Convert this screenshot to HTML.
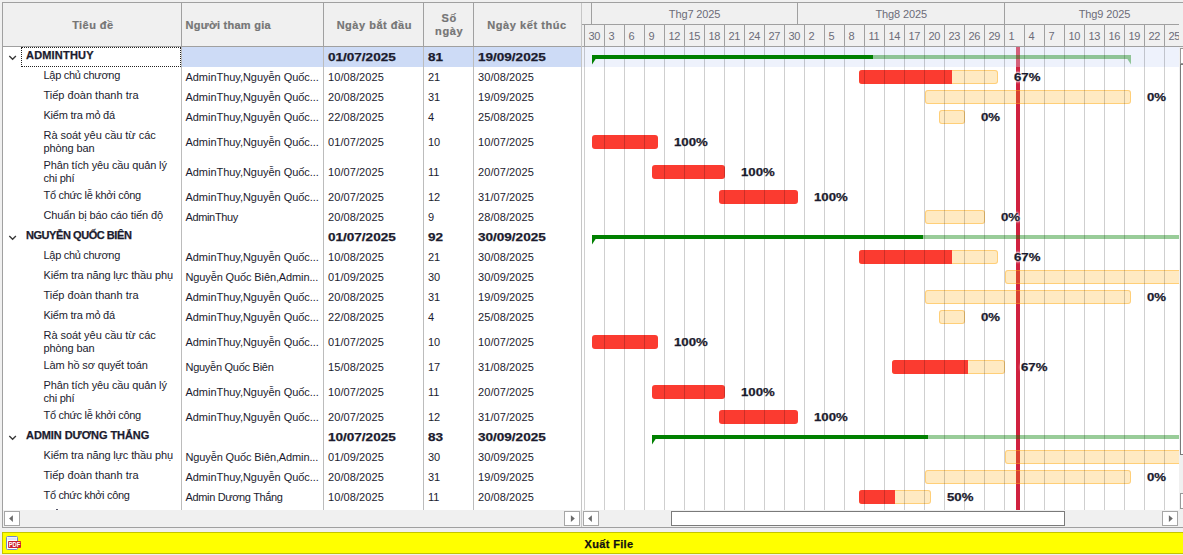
<!DOCTYPE html>
<html><head><meta charset="utf-8"><title>Gantt</title>
<style>

html,body{margin:0;padding:0;}
body{width:1183px;height:555px;overflow:hidden;position:relative;background:#f0f0f0;font-family:"Liberation Sans", sans-serif;font-size:11px;color:#1b1b2e;}
div,span,svg{position:absolute;white-space:nowrap;box-sizing:border-box;}
span span{position:static;}
.t{line-height:20px;height:20px;}
.b{font-weight:bold;-webkit-text-stroke:0.25px currentColor;}
.sx{display:inline-block;transform-origin:0 50%;transform:scaleX(1.23);position:static;}
.hl{background:#a0a0a0;}
.vl{background:#c3c3c3;width:1px;}
.hd{color:#757575;font-weight:bold;-webkit-text-stroke:0.2px currentColor;line-height:13px;text-align:center;}
.bar{height:14px;border-radius:3px;background:rgba(255,168,0,0.24);box-shadow:inset 0 0 0 1px rgba(255,170,20,0.42);overflow:hidden;}
.bar i{position:absolute;left:0;top:0;height:14px;background:#fb3b30;display:block;}
.full{background:#fb3b30;box-shadow:none;}
.lbl{font-weight:bold;-webkit-text-stroke:0.25px currentColor;line-height:20px;height:20px;text-shadow:0 0 2px #fff,0 0 2px #fff,0 0 3px #fff,0 0 3px #fff;}
.sbtn{width:16px;height:15px;background:#fff;border:1px solid #a6a6a6;}

</style></head><body>
<div style="left:2px;top:2px;width:1200px;height:526px;border:1px solid #a0a0a0;"></div>
<div style="left:3px;top:47px;width:578px;height:463px;background:#fff;"></div>
<div style="left:582px;top:47px;width:597px;height:463px;background:#fff;"></div>
<div style="left:182px;top:47px;width:399px;height:20px;background:#cddbf6;"></div>
<div class="hl" style="left:3px;top:46px;width:1180px;height:1px;"></div>
<div class="hl" style="left:181px;top:3px;width:1px;height:43px;"></div>
<div class="vl" style="left:181px;top:47px;height:463px;background:#bcbcbc;"></div>
<div class="hl" style="left:323px;top:3px;width:1px;height:43px;"></div>
<div class="vl" style="left:323px;top:47px;height:463px;background:#bcbcbc;"></div>
<div class="hl" style="left:423px;top:3px;width:1px;height:43px;"></div>
<div class="vl" style="left:423px;top:47px;height:463px;background:#bcbcbc;"></div>
<div class="hl" style="left:473px;top:3px;width:1px;height:43px;"></div>
<div class="vl" style="left:473px;top:47px;height:463px;background:#bcbcbc;"></div>
<div style="left:581px;top:3px;width:1px;height:524px;background:#c6c6c6;"></div>
<span class="hd" style="left:-7.200000000000003px;width:200px;top:18.5px;"><span style="letter-spacing:0.427px;">Tiêu đề</span></span>
<span class="hd" style="left:185.5px;top:18.5px;text-align:left;"><span style="letter-spacing:0.257px;">Người tham gia</span></span>
<span class="hd" style="left:274.3px;width:200px;top:18.5px;"><span style="letter-spacing:0.518px;">Ngày bắt đầu</span></span>
<span class="hd" style="left:349.2px;width:200px;top:12.0px;"><span style="letter-spacing:0.619px;">Số</span></span>
<span class="hd" style="left:349.2px;width:200px;top:25.0px;"><span style="letter-spacing:0.653px;">ngày</span></span>
<span class="hd" style="left:427px;width:200px;top:18.5px;"><span style="letter-spacing:0.566px;">Ngày kết thúc</span></span>
<svg style="left:8px;top:54px;" width="10" height="8" viewBox="0 0 10 8"><path d="M1.3 2.0 L4.6 5.3 L7.9 2.0" fill="none" stroke="#383838" stroke-width="1.35"/></svg>
<span class="t b" style="left:26px;top:45px;"><span style="letter-spacing:0.189px;">ADMINTHUY</span></span>
<span class="t b" style="left:328px;top:47.0px;"><span class="sx">01/07/2025</span></span>
<span class="t b" style="left:428px;top:47.0px;"><span class="sx">81</span></span>
<span class="t b" style="left:478px;top:47.0px;"><span class="sx">19/09/2025</span></span>
<span class="t" style="left:43.5px;top:65px;"><span style="letter-spacing:-0.296px;">Lập chủ chương</span></span>
<span class="t" style="left:185.5px;top:67.0px;"><span style="letter-spacing:-0.042px;">AdminThuy,Nguyễn Quốc...</span></span>
<span class="t" style="left:328px;top:67.0px;letter-spacing:0.08px;">10/08/2025</span>
<span class="t" style="left:428px;top:67.0px;">21</span>
<span class="t" style="left:478px;top:67.0px;letter-spacing:0.08px;">30/08/2025</span>
<span class="t" style="left:43.5px;top:85px;"><span style="">Tiếp đoàn thanh tra</span></span>
<span class="t" style="left:185.5px;top:87.0px;"><span style="letter-spacing:-0.042px;">AdminThuy,Nguyễn Quốc...</span></span>
<span class="t" style="left:328px;top:87.0px;letter-spacing:0.08px;">20/08/2025</span>
<span class="t" style="left:428px;top:87.0px;">31</span>
<span class="t" style="left:478px;top:87.0px;letter-spacing:0.08px;">19/09/2025</span>
<span class="t" style="left:43.5px;top:105px;"><span style="letter-spacing:-0.228px;">Kiểm tra mỏ đá</span></span>
<span class="t" style="left:185.5px;top:107.0px;"><span style="letter-spacing:-0.042px;">AdminThuy,Nguyễn Quốc...</span></span>
<span class="t" style="left:328px;top:107.0px;letter-spacing:0.08px;">22/08/2025</span>
<span class="t" style="left:428px;top:107.0px;">4</span>
<span class="t" style="left:478px;top:107.0px;letter-spacing:0.08px;">25/08/2025</span>
<span class="t" style="left:43.5px;top:125px;"><span style="letter-spacing:-0.043px;">Rà soát yêu cầu từ các</span></span>
<span class="t" style="left:43.5px;top:138px;"><span style="letter-spacing:-0.111px;">phòng ban</span></span>
<span class="t" style="left:185.5px;top:132.0px;"><span style="letter-spacing:-0.042px;">AdminThuy,Nguyễn Quốc...</span></span>
<span class="t" style="left:328px;top:132.0px;letter-spacing:0.08px;">01/07/2025</span>
<span class="t" style="left:428px;top:132.0px;">10</span>
<span class="t" style="left:478px;top:132.0px;letter-spacing:0.08px;">10/07/2025</span>
<span class="t" style="left:43.5px;top:155px;"><span style="letter-spacing:-0.132px;">Phân tích yêu cầu quản lý</span></span>
<span class="t" style="left:43.5px;top:168px;"><span style="letter-spacing:-0.246px;">chi phí</span></span>
<span class="t" style="left:185.5px;top:162.0px;"><span style="letter-spacing:-0.042px;">AdminThuy,Nguyễn Quốc...</span></span>
<span class="t" style="left:328px;top:162.0px;letter-spacing:0.08px;">10/07/2025</span>
<span class="t" style="left:428px;top:162.0px;">11</span>
<span class="t" style="left:478px;top:162.0px;letter-spacing:0.08px;">20/07/2025</span>
<span class="t" style="left:43.5px;top:185px;"><span style="letter-spacing:-0.292px;">Tổ chức lễ khởi công</span></span>
<span class="t" style="left:185.5px;top:187.0px;"><span style="letter-spacing:-0.042px;">AdminThuy,Nguyễn Quốc...</span></span>
<span class="t" style="left:328px;top:187.0px;letter-spacing:0.08px;">20/07/2025</span>
<span class="t" style="left:428px;top:187.0px;">12</span>
<span class="t" style="left:478px;top:187.0px;letter-spacing:0.08px;">31/07/2025</span>
<span class="t" style="left:43.5px;top:205px;"><span style="letter-spacing:-0.122px;">Chuẩn bị báo cáo tiến độ</span></span>
<span class="t" style="left:185.5px;top:207.0px;"><span style="letter-spacing:-0.36px;">AdminThuy</span></span>
<span class="t" style="left:328px;top:207.0px;letter-spacing:0.08px;">20/08/2025</span>
<span class="t" style="left:428px;top:207.0px;">9</span>
<span class="t" style="left:478px;top:207.0px;letter-spacing:0.08px;">28/08/2025</span>
<svg style="left:8px;top:234px;" width="10" height="8" viewBox="0 0 10 8"><path d="M1.3 2.0 L4.6 5.3 L7.9 2.0" fill="none" stroke="#383838" stroke-width="1.35"/></svg>
<span class="t b" style="left:26px;top:225px;"><span style="letter-spacing:-0.442px;">NGUYỄN QUỐC BIÊN</span></span>
<span class="t b" style="left:328px;top:227.0px;"><span class="sx">01/07/2025</span></span>
<span class="t b" style="left:428px;top:227.0px;"><span class="sx">92</span></span>
<span class="t b" style="left:478px;top:227.0px;"><span class="sx">30/09/2025</span></span>
<span class="t" style="left:43.5px;top:245px;"><span style="letter-spacing:-0.296px;">Lập chủ chương</span></span>
<span class="t" style="left:185.5px;top:247.0px;"><span style="letter-spacing:-0.042px;">AdminThuy,Nguyễn Quốc...</span></span>
<span class="t" style="left:328px;top:247.0px;letter-spacing:0.08px;">10/08/2025</span>
<span class="t" style="left:428px;top:247.0px;">21</span>
<span class="t" style="left:478px;top:247.0px;letter-spacing:0.08px;">30/08/2025</span>
<span class="t" style="left:43.5px;top:265px;"><span style="letter-spacing:-0.124px;">Kiểm tra năng lực thầu phụ</span></span>
<span class="t" style="left:185.5px;top:267.0px;"><span style="letter-spacing:-0.122px;">Nguyễn Quốc Biên,Admin...</span></span>
<span class="t" style="left:328px;top:267.0px;letter-spacing:0.08px;">01/09/2025</span>
<span class="t" style="left:428px;top:267.0px;">30</span>
<span class="t" style="left:478px;top:267.0px;letter-spacing:0.08px;">30/09/2025</span>
<span class="t" style="left:43.5px;top:285px;"><span style="">Tiếp đoàn thanh tra</span></span>
<span class="t" style="left:185.5px;top:287.0px;"><span style="letter-spacing:-0.042px;">AdminThuy,Nguyễn Quốc...</span></span>
<span class="t" style="left:328px;top:287.0px;letter-spacing:0.08px;">20/08/2025</span>
<span class="t" style="left:428px;top:287.0px;">31</span>
<span class="t" style="left:478px;top:287.0px;letter-spacing:0.08px;">19/09/2025</span>
<span class="t" style="left:43.5px;top:305px;"><span style="letter-spacing:-0.228px;">Kiểm tra mỏ đá</span></span>
<span class="t" style="left:185.5px;top:307.0px;"><span style="letter-spacing:-0.042px;">AdminThuy,Nguyễn Quốc...</span></span>
<span class="t" style="left:328px;top:307.0px;letter-spacing:0.08px;">22/08/2025</span>
<span class="t" style="left:428px;top:307.0px;">4</span>
<span class="t" style="left:478px;top:307.0px;letter-spacing:0.08px;">25/08/2025</span>
<span class="t" style="left:43.5px;top:325px;"><span style="letter-spacing:-0.043px;">Rà soát yêu cầu từ các</span></span>
<span class="t" style="left:43.5px;top:338px;"><span style="letter-spacing:-0.111px;">phòng ban</span></span>
<span class="t" style="left:185.5px;top:332.0px;"><span style="letter-spacing:-0.042px;">AdminThuy,Nguyễn Quốc...</span></span>
<span class="t" style="left:328px;top:332.0px;letter-spacing:0.08px;">01/07/2025</span>
<span class="t" style="left:428px;top:332.0px;">10</span>
<span class="t" style="left:478px;top:332.0px;letter-spacing:0.08px;">10/07/2025</span>
<span class="t" style="left:43.5px;top:355px;"><span style="letter-spacing:-0.135px;">Làm hồ sơ quyết toán</span></span>
<span class="t" style="left:185.5px;top:357.0px;"><span style="letter-spacing:-0.271px;">Nguyễn Quốc Biên</span></span>
<span class="t" style="left:328px;top:357.0px;letter-spacing:0.08px;">15/08/2025</span>
<span class="t" style="left:428px;top:357.0px;">17</span>
<span class="t" style="left:478px;top:357.0px;letter-spacing:0.08px;">31/08/2025</span>
<span class="t" style="left:43.5px;top:375px;"><span style="letter-spacing:-0.132px;">Phân tích yêu cầu quản lý</span></span>
<span class="t" style="left:43.5px;top:388px;"><span style="letter-spacing:-0.246px;">chi phí</span></span>
<span class="t" style="left:185.5px;top:382.0px;"><span style="letter-spacing:-0.042px;">AdminThuy,Nguyễn Quốc...</span></span>
<span class="t" style="left:328px;top:382.0px;letter-spacing:0.08px;">10/07/2025</span>
<span class="t" style="left:428px;top:382.0px;">11</span>
<span class="t" style="left:478px;top:382.0px;letter-spacing:0.08px;">20/07/2025</span>
<span class="t" style="left:43.5px;top:405px;"><span style="letter-spacing:-0.292px;">Tổ chức lễ khởi công</span></span>
<span class="t" style="left:185.5px;top:407.0px;"><span style="letter-spacing:-0.042px;">AdminThuy,Nguyễn Quốc...</span></span>
<span class="t" style="left:328px;top:407.0px;letter-spacing:0.08px;">20/07/2025</span>
<span class="t" style="left:428px;top:407.0px;">12</span>
<span class="t" style="left:478px;top:407.0px;letter-spacing:0.08px;">31/07/2025</span>
<svg style="left:8px;top:434px;" width="10" height="8" viewBox="0 0 10 8"><path d="M1.3 2.0 L4.6 5.3 L7.9 2.0" fill="none" stroke="#383838" stroke-width="1.35"/></svg>
<span class="t b" style="left:26px;top:425px;"><span style="letter-spacing:-0.061px;">ADMIN DƯƠNG THẮNG</span></span>
<span class="t b" style="left:328px;top:427.0px;"><span class="sx">10/07/2025</span></span>
<span class="t b" style="left:428px;top:427.0px;"><span class="sx">83</span></span>
<span class="t b" style="left:478px;top:427.0px;"><span class="sx">30/09/2025</span></span>
<span class="t" style="left:43.5px;top:445px;"><span style="letter-spacing:-0.124px;">Kiểm tra năng lực thầu phụ</span></span>
<span class="t" style="left:185.5px;top:447.0px;"><span style="letter-spacing:-0.122px;">Nguyễn Quốc Biên,Admin...</span></span>
<span class="t" style="left:328px;top:447.0px;letter-spacing:0.08px;">01/09/2025</span>
<span class="t" style="left:428px;top:447.0px;">30</span>
<span class="t" style="left:478px;top:447.0px;letter-spacing:0.08px;">30/09/2025</span>
<span class="t" style="left:43.5px;top:465px;"><span style="">Tiếp đoàn thanh tra</span></span>
<span class="t" style="left:185.5px;top:467.0px;"><span style="letter-spacing:-0.042px;">AdminThuy,Nguyễn Quốc...</span></span>
<span class="t" style="left:328px;top:467.0px;letter-spacing:0.08px;">20/08/2025</span>
<span class="t" style="left:428px;top:467.0px;">31</span>
<span class="t" style="left:478px;top:467.0px;letter-spacing:0.08px;">19/09/2025</span>
<span class="t" style="left:43.5px;top:485px;"><span style="letter-spacing:-0.331px;">Tổ chức khởi công</span></span>
<span class="t" style="left:185.5px;top:487.0px;"><span style="letter-spacing:-0.35px;">Admin Dương Thắng</span></span>
<span class="t" style="left:328px;top:487.0px;letter-spacing:0.08px;">10/08/2025</span>
<span class="t" style="left:428px;top:487.0px;">11</span>
<span class="t" style="left:478px;top:487.0px;letter-spacing:0.08px;">20/08/2025</span>
<div style="left:582px;top:3px;width:597px;height:43px;overflow:hidden;">
<div class="hl" style="left:0px;top:21px;width:597px;height:1px;"></div>
<div class="hl" style="left:9px;top:0px;width:1px;height:21px;"></div>
<div class="hl" style="left:215px;top:0px;width:1px;height:21px;"></div>
<div class="hl" style="left:422px;top:0px;width:1px;height:21px;"></div>
<span style="left:12.600000000000023px;width:200px;text-align:center;top:3.7px;line-height:14px;color:#6c6c78;"><span style="letter-spacing:-0.123px;">Thg7 2025</span></span>
<span style="left:219.20000000000005px;width:200px;text-align:center;top:3.7px;line-height:14px;color:#6c6c78;"><span style="letter-spacing:-0.123px;">Thg8 2025</span></span>
<span style="left:422.4000000000001px;width:200px;text-align:center;top:3.7px;line-height:14px;color:#6c6c78;"><span style="letter-spacing:-0.123px;">Thg9 2025</span></span>
<div class="hl" style="left:2px;top:22px;width:1px;height:21px;"></div>
<span style="left:6.6px;top:25.5px;line-height:14px;color:#6c6c78;letter-spacing:-0.4px;">30</span>
<div class="hl" style="left:22px;top:22px;width:1px;height:21px;"></div>
<span style="left:26.6px;top:25.5px;line-height:14px;color:#6c6c78;letter-spacing:-0.4px;">3</span>
<div class="hl" style="left:42px;top:22px;width:1px;height:21px;"></div>
<span style="left:46.6px;top:25.5px;line-height:14px;color:#6c6c78;letter-spacing:-0.4px;">6</span>
<div class="hl" style="left:62px;top:22px;width:1px;height:21px;"></div>
<span style="left:66.6px;top:25.5px;line-height:14px;color:#6c6c78;letter-spacing:-0.4px;">9</span>
<div class="hl" style="left:82px;top:22px;width:1px;height:21px;"></div>
<span style="left:86.6px;top:25.5px;line-height:14px;color:#6c6c78;letter-spacing:-0.4px;">12</span>
<div class="hl" style="left:102px;top:22px;width:1px;height:21px;"></div>
<span style="left:106.6px;top:25.5px;line-height:14px;color:#6c6c78;letter-spacing:-0.4px;">15</span>
<div class="hl" style="left:122px;top:22px;width:1px;height:21px;"></div>
<span style="left:126.6px;top:25.5px;line-height:14px;color:#6c6c78;letter-spacing:-0.4px;">18</span>
<div class="hl" style="left:142px;top:22px;width:1px;height:21px;"></div>
<span style="left:146.6px;top:25.5px;line-height:14px;color:#6c6c78;letter-spacing:-0.4px;">21</span>
<div class="hl" style="left:162px;top:22px;width:1px;height:21px;"></div>
<span style="left:166.6px;top:25.5px;line-height:14px;color:#6c6c78;letter-spacing:-0.4px;">24</span>
<div class="hl" style="left:182px;top:22px;width:1px;height:21px;"></div>
<span style="left:186.6px;top:25.5px;line-height:14px;color:#6c6c78;letter-spacing:-0.4px;">27</span>
<div class="hl" style="left:202px;top:22px;width:1px;height:21px;"></div>
<span style="left:206.6px;top:25.5px;line-height:14px;color:#6c6c78;letter-spacing:-0.4px;">30</span>
<div class="hl" style="left:222px;top:22px;width:1px;height:21px;"></div>
<span style="left:226.6px;top:25.5px;line-height:14px;color:#6c6c78;letter-spacing:-0.4px;">2</span>
<div class="hl" style="left:242px;top:22px;width:1px;height:21px;"></div>
<span style="left:246.6px;top:25.5px;line-height:14px;color:#6c6c78;letter-spacing:-0.4px;">5</span>
<div class="hl" style="left:262px;top:22px;width:1px;height:21px;"></div>
<span style="left:266.6px;top:25.5px;line-height:14px;color:#6c6c78;letter-spacing:-0.4px;">8</span>
<div class="hl" style="left:282px;top:22px;width:1px;height:21px;"></div>
<span style="left:286.6px;top:25.5px;line-height:14px;color:#6c6c78;letter-spacing:-0.4px;">11</span>
<div class="hl" style="left:302px;top:22px;width:1px;height:21px;"></div>
<span style="left:306.6px;top:25.5px;line-height:14px;color:#6c6c78;letter-spacing:-0.4px;">14</span>
<div class="hl" style="left:322px;top:22px;width:1px;height:21px;"></div>
<span style="left:326.6px;top:25.5px;line-height:14px;color:#6c6c78;letter-spacing:-0.4px;">17</span>
<div class="hl" style="left:342px;top:22px;width:1px;height:21px;"></div>
<span style="left:346.6px;top:25.5px;line-height:14px;color:#6c6c78;letter-spacing:-0.4px;">20</span>
<div class="hl" style="left:362px;top:22px;width:1px;height:21px;"></div>
<span style="left:366.6px;top:25.5px;line-height:14px;color:#6c6c78;letter-spacing:-0.4px;">23</span>
<div class="hl" style="left:382px;top:22px;width:1px;height:21px;"></div>
<span style="left:386.6px;top:25.5px;line-height:14px;color:#6c6c78;letter-spacing:-0.4px;">26</span>
<div class="hl" style="left:402px;top:22px;width:1px;height:21px;"></div>
<span style="left:406.6px;top:25.5px;line-height:14px;color:#6c6c78;letter-spacing:-0.4px;">29</span>
<div class="hl" style="left:422px;top:22px;width:1px;height:21px;"></div>
<span style="left:426.6px;top:25.5px;line-height:14px;color:#6c6c78;letter-spacing:-0.4px;">1</span>
<div class="hl" style="left:442px;top:22px;width:1px;height:21px;"></div>
<span style="left:446.6px;top:25.5px;line-height:14px;color:#6c6c78;letter-spacing:-0.4px;">4</span>
<div class="hl" style="left:462px;top:22px;width:1px;height:21px;"></div>
<span style="left:466.6px;top:25.5px;line-height:14px;color:#6c6c78;letter-spacing:-0.4px;">7</span>
<div class="hl" style="left:482px;top:22px;width:1px;height:21px;"></div>
<span style="left:486.6px;top:25.5px;line-height:14px;color:#6c6c78;letter-spacing:-0.4px;">10</span>
<div class="hl" style="left:502px;top:22px;width:1px;height:21px;"></div>
<span style="left:506.6px;top:25.5px;line-height:14px;color:#6c6c78;letter-spacing:-0.4px;">13</span>
<div class="hl" style="left:522px;top:22px;width:1px;height:21px;"></div>
<span style="left:526.6px;top:25.5px;line-height:14px;color:#6c6c78;letter-spacing:-0.4px;">16</span>
<div class="hl" style="left:542px;top:22px;width:1px;height:21px;"></div>
<span style="left:546.6px;top:25.5px;line-height:14px;color:#6c6c78;letter-spacing:-0.4px;">19</span>
<div class="hl" style="left:562px;top:22px;width:1px;height:21px;"></div>
<span style="left:566.6px;top:25.5px;line-height:14px;color:#6c6c78;letter-spacing:-0.4px;">22</span>
<div class="hl" style="left:582px;top:22px;width:1px;height:21px;"></div>
<span style="left:586.6px;top:25.5px;line-height:14px;color:#6c6c78;letter-spacing:-0.4px;">25</span>
<div class="hl" style="left:602px;top:22px;width:1px;height:21px;"></div>
<span style="left:606.6px;top:25.5px;line-height:14px;color:#6c6c78;letter-spacing:-0.4px;">28</span>
</div>
<div style="left:582px;top:47px;width:597px;height:463px;overflow:hidden;">
<div style="left:0;top:0;width:597px;height:20px;background:#eef2fc;"></div>
<div style="left:434px;top:0;width:4px;height:463px;background:#d0213f;"></div>
<div style="left:434px;top:0;width:4px;height:20px;background:#d4607a;"></div>
<div style="left:291px;top:8px;width:258px;height:4px;background:rgba(0,128,0,0.4);"></div>
<svg style="left:544px;top:12px;" width="5" height="6" viewBox="0 0 5 6"><path d="M5 0 L1.4 0 L5 5.4 Z" fill="rgba(0,128,0,0.4)"/></svg>
<div class="bar" style="left:277px;top:23px;width:139px;"><i style="width:93px"></i></div>
<span class="lbl" style="left:431.5px;top:20.0px;"><span class="sx" style="transform:scaleX(1.2)">67%</span></span>
<div class="bar" style="left:343px;top:43px;width:206px;"></div>
<span class="lbl" style="left:564.5px;top:40.0px;"><span class="sx" style="transform:scaleX(1.2)">0%</span></span>
<div class="bar" style="left:357px;top:63px;width:26px;"></div>
<span class="lbl" style="left:398.5px;top:60.0px;"><span class="sx" style="transform:scaleX(1.2)">0%</span></span>
<div class="bar full" style="left:10px;top:88px;width:66px;"></div>
<span class="lbl" style="left:91.5px;top:85.0px;"><span class="sx" style="transform:scaleX(1.2)">100%</span></span>
<div class="bar full" style="left:70px;top:118px;width:73px;"></div>
<span class="lbl" style="left:158.5px;top:115.0px;"><span class="sx" style="transform:scaleX(1.2)">100%</span></span>
<div class="bar full" style="left:137px;top:143px;width:79px;"></div>
<span class="lbl" style="left:231.5px;top:140.0px;"><span class="sx" style="transform:scaleX(1.2)">100%</span></span>
<div class="bar" style="left:343px;top:163px;width:60px;"></div>
<span class="lbl" style="left:418.5px;top:160.0px;"><span class="sx" style="transform:scaleX(1.2)">0%</span></span>
<div style="left:341px;top:188px;width:282px;height:4px;background:rgba(0,128,0,0.4);"></div>
<svg style="left:618px;top:192px;" width="5" height="6" viewBox="0 0 5 6"><path d="M5 0 L1.4 0 L5 5.4 Z" fill="rgba(0,128,0,0.4)"/></svg>
<div class="bar" style="left:277px;top:203px;width:139px;"><i style="width:93px"></i></div>
<span class="lbl" style="left:431.5px;top:200.0px;"><span class="sx" style="transform:scaleX(1.2)">67%</span></span>
<div class="bar" style="left:423px;top:223px;width:200px;"></div>
<span class="lbl" style="left:638.5px;top:220.0px;"><span class="sx" style="transform:scaleX(1.2)">0%</span></span>
<div class="bar" style="left:343px;top:243px;width:206px;"></div>
<span class="lbl" style="left:564.5px;top:240.0px;"><span class="sx" style="transform:scaleX(1.2)">0%</span></span>
<div class="bar" style="left:357px;top:263px;width:26px;"></div>
<span class="lbl" style="left:398.5px;top:260.0px;"><span class="sx" style="transform:scaleX(1.2)">0%</span></span>
<div class="bar full" style="left:10px;top:288px;width:66px;"></div>
<span class="lbl" style="left:91.5px;top:285.0px;"><span class="sx" style="transform:scaleX(1.2)">100%</span></span>
<div class="bar" style="left:310px;top:313px;width:113px;"><i style="width:76px"></i></div>
<span class="lbl" style="left:438.5px;top:310.0px;"><span class="sx" style="transform:scaleX(1.2)">67%</span></span>
<div class="bar full" style="left:70px;top:338px;width:73px;"></div>
<span class="lbl" style="left:158.5px;top:335.0px;"><span class="sx" style="transform:scaleX(1.2)">100%</span></span>
<div class="bar full" style="left:137px;top:363px;width:79px;"></div>
<span class="lbl" style="left:231.5px;top:360.0px;"><span class="sx" style="transform:scaleX(1.2)">100%</span></span>
<div style="left:346px;top:388px;width:277px;height:4px;background:rgba(0,128,0,0.4);"></div>
<svg style="left:618px;top:392px;" width="5" height="6" viewBox="0 0 5 6"><path d="M5 0 L1.4 0 L5 5.4 Z" fill="rgba(0,128,0,0.4)"/></svg>
<div class="bar" style="left:423px;top:403px;width:200px;"></div>
<span class="lbl" style="left:638.5px;top:400.0px;"><span class="sx" style="transform:scaleX(1.2)">0%</span></span>
<div class="bar" style="left:343px;top:423px;width:206px;"></div>
<span class="lbl" style="left:564.5px;top:420.0px;"><span class="sx" style="transform:scaleX(1.2)">0%</span></span>
<div class="bar" style="left:277px;top:443px;width:72px;"><i style="width:36px"></i></div>
<span class="lbl" style="left:364.5px;top:440.0px;"><span class="sx" style="transform:scaleX(1.2)">50%</span></span>
<div style="left:2px;top:0;width:1px;height:463px;background:rgba(0,0,0,0.19);"></div>
<div style="left:22px;top:0;width:1px;height:463px;background:rgba(0,0,0,0.19);"></div>
<div style="left:42px;top:0;width:1px;height:463px;background:rgba(0,0,0,0.19);"></div>
<div style="left:62px;top:0;width:1px;height:463px;background:rgba(0,0,0,0.19);"></div>
<div style="left:82px;top:0;width:1px;height:463px;background:rgba(0,0,0,0.19);"></div>
<div style="left:102px;top:0;width:1px;height:463px;background:rgba(0,0,0,0.19);"></div>
<div style="left:122px;top:0;width:1px;height:463px;background:rgba(0,0,0,0.19);"></div>
<div style="left:142px;top:0;width:1px;height:463px;background:rgba(0,0,0,0.19);"></div>
<div style="left:162px;top:0;width:1px;height:463px;background:rgba(0,0,0,0.19);"></div>
<div style="left:182px;top:0;width:1px;height:463px;background:rgba(0,0,0,0.19);"></div>
<div style="left:202px;top:0;width:1px;height:463px;background:rgba(0,0,0,0.19);"></div>
<div style="left:222px;top:0;width:1px;height:463px;background:rgba(0,0,0,0.19);"></div>
<div style="left:242px;top:0;width:1px;height:463px;background:rgba(0,0,0,0.19);"></div>
<div style="left:262px;top:0;width:1px;height:463px;background:rgba(0,0,0,0.19);"></div>
<div style="left:282px;top:0;width:1px;height:463px;background:rgba(0,0,0,0.19);"></div>
<div style="left:302px;top:0;width:1px;height:463px;background:rgba(0,0,0,0.19);"></div>
<div style="left:322px;top:0;width:1px;height:463px;background:rgba(0,0,0,0.19);"></div>
<div style="left:342px;top:0;width:1px;height:463px;background:rgba(0,0,0,0.19);"></div>
<div style="left:362px;top:0;width:1px;height:463px;background:rgba(0,0,0,0.19);"></div>
<div style="left:382px;top:0;width:1px;height:463px;background:rgba(0,0,0,0.19);"></div>
<div style="left:402px;top:0;width:1px;height:463px;background:rgba(0,0,0,0.19);"></div>
<div style="left:422px;top:0;width:1px;height:463px;background:rgba(0,0,0,0.19);"></div>
<div style="left:442px;top:0;width:1px;height:463px;background:rgba(0,0,0,0.19);"></div>
<div style="left:462px;top:0;width:1px;height:463px;background:rgba(0,0,0,0.19);"></div>
<div style="left:482px;top:0;width:1px;height:463px;background:rgba(0,0,0,0.19);"></div>
<div style="left:502px;top:0;width:1px;height:463px;background:rgba(0,0,0,0.19);"></div>
<div style="left:522px;top:0;width:1px;height:463px;background:rgba(0,0,0,0.19);"></div>
<div style="left:542px;top:0;width:1px;height:463px;background:rgba(0,0,0,0.19);"></div>
<div style="left:562px;top:0;width:1px;height:463px;background:rgba(0,0,0,0.19);"></div>
<div style="left:582px;top:0;width:1px;height:463px;background:rgba(0,0,0,0.19);"></div>
<div style="left:602px;top:0;width:1px;height:463px;background:rgba(0,0,0,0.19);"></div>
<div style="left:10px;top:8px;width:281px;height:4px;background:#008000;"></div>
<svg style="left:10px;top:12px;" width="5" height="6" viewBox="0 0 5 6"><path d="M0 0 L3.6 0 L0 5.4 Z" fill="#008000"/></svg>
<div style="left:10px;top:188px;width:331px;height:4px;background:#008000;"></div>
<svg style="left:10px;top:192px;" width="5" height="6" viewBox="0 0 5 6"><path d="M0 0 L3.6 0 L0 5.4 Z" fill="#008000"/></svg>
<div style="left:70px;top:388px;width:276px;height:4px;background:#008000;"></div>
<svg style="left:70px;top:392px;" width="5" height="6" viewBox="0 0 5 6"><path d="M0 0 L3.6 0 L0 5.4 Z" fill="#008000"/></svg>
</div>
<div style="left:56px;top:509px;width:2px;height:1px;background:#55556a;"></div>
<div style="left:21px;top:47px;width:160px;height:20px;border:1px dotted #222;background:#fff;"></div>
<span class="t b" style="left:26px;top:45px;"><span style="letter-spacing:0.189px;">ADMINTHUY</span></span>
<div style="left:3px;top:510px;width:1180px;height:17px;background:#f0f0f0;"></div>
<div style="left:581px;top:510px;width:1px;height:17px;background:#c6c6c6;"></div>
<div class="sbtn" style="left:4px;top:511px;"><svg style="left:-1px;top:-1px" width="16" height="15"><path d="M8.9 4.3 L8.9 10.9 L5.1 7.6 Z" fill="#6a6a6a"/></svg></div>
<div class="sbtn" style="left:564px;top:511px;"><svg style="left:-1px;top:-1px" width="16" height="15"><path d="M6.9 4.3 L6.9 10.9 L10.8 7.6 Z" fill="#6a6a6a"/></svg></div>
<div class="sbtn" style="left:583px;top:511px;"><svg style="left:-1px;top:-1px" width="16" height="15"><path d="M8.9 4.3 L8.9 10.9 L5.1 7.6 Z" fill="#6a6a6a"/></svg></div>
<div class="sbtn" style="left:1162px;top:511px;"><svg style="left:-1px;top:-1px" width="16" height="15"><path d="M6.9 4.3 L6.9 10.9 L10.8 7.6 Z" fill="#6a6a6a"/></svg></div>
<div style="left:671px;top:511px;width:394px;height:15px;background:#fff;border:1px solid #7a7a7a;"></div>
<div style="left:1179px;top:47px;width:17px;height:463px;background:#f0f0f0;"></div>
<div style="left:1180px;top:48px;width:15px;height:16px;background:#fff;border:1px solid #999;"></div>
<div style="left:1180px;top:64px;width:15px;height:391px;background:#fff;border:1px solid #7a7a7a;"></div>
<div style="left:1180px;top:493px;width:15px;height:16px;background:#fff;border:1px solid #999;"></div>
<div style="left:2px;top:532px;width:1200px;height:22px;background:#ffff00;border:1px solid #c4c400;"></div>
<span class="b" style="left:0;width:1218px;text-align:center;top:537px;line-height:14px;color:#111;"><span style="letter-spacing:0.351px;">Xuất File</span></span>
<svg style="left:6px;top:536px;" width="16" height="15" viewBox="0 0 16 15">
<rect x="0.5" y="0.5" width="11" height="13" rx="1" fill="#fdfdff" stroke="#6f86c8"/>
<rect x="1.5" y="1.5" width="9" height="2.5" fill="#dde5fa"/>
<rect x="2" y="5" width="13" height="7" rx="1" fill="#cc1f2b"/>
<text x="8.5" y="11" font-family="Liberation Sans" font-weight="bold" font-size="7" fill="#fff" text-anchor="middle" textLength="11.6" lengthAdjust="spacingAndGlyphs">PDF</text>
</svg>
</body></html>
